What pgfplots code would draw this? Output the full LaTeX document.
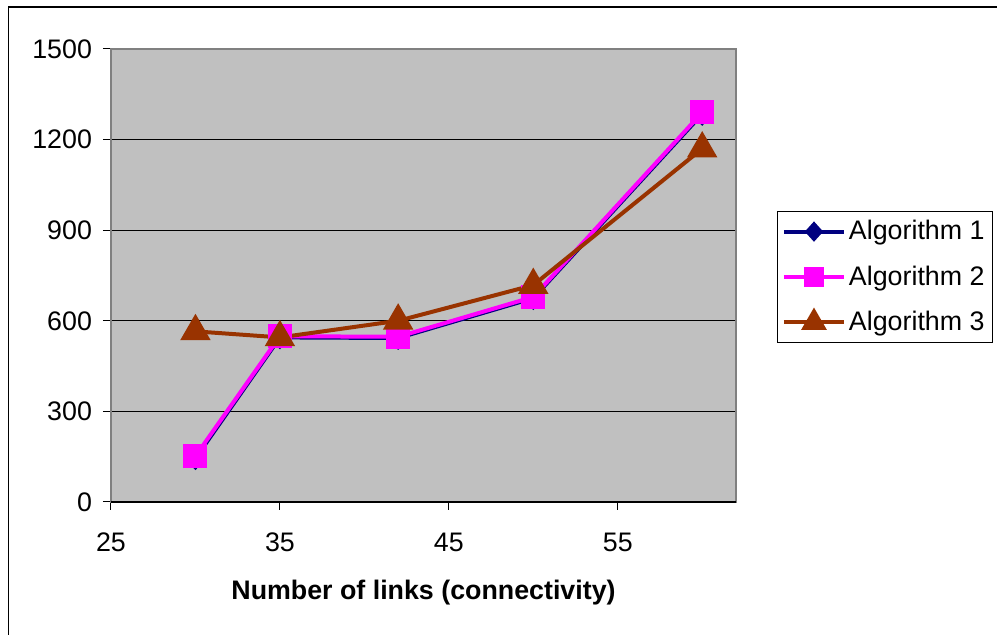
\documentclass[border=0pt]{standalone}
\usepackage{pgfplots}
\pgfplotsset{compat=1.18}
\usepackage{fontspec}
\setmainfont{Liberation Sans}
\definecolor{algone}{RGB}{0,0,128}
\definecolor{algtwo}{RGB}{255,0,255}
\definecolor{algthree}{RGB}{153,51,0}
\definecolor{plotbg}{RGB}{192,192,192}
\definecolor{axgray}{RGB}{128,128,128}
\begin{document}
\begin{tikzpicture}[font=\fontsize{13.4}{16}\selectfont]
\useasboundingbox (0,0) rectangle (498.5pt,317.5pt);
\draw[black, line width=0.6pt] (4.2pt,-5pt) -- (4.2pt,314pt) -- (505pt,314pt);
\begin{axis}[
  at={(55.5pt,66.5pt)}, anchor=south west,
  scale only axis, width=312.5pt, height=226.5pt,
  xmin=25, xmax=62, ymin=0, ymax=1500,
  xtick={25,35,45,55}, ytick={0,300,600,900,1200,1500},
  tick pos=left,
  tick align=outside, major tick length=4pt,
  ymajorgrids, grid style={black, line width=0.5pt},
  axis line style={axgray, line width=0.6pt},
  tick style={black, line width=0.5pt},
  axis background/.style={fill=plotbg},
  /pgf/number format/assume math mode=true,
  /pgf/number format/1000 sep={},
  ticklabel style={font=\fontsize{13.4}{16}\selectfont},
  xticklabel style={yshift=-8pt},
  yticklabel style={xshift=-2pt},
  xlabel={\bfseries Number of links (connectivity)},
  xlabel style={at={(axis description cs:0.5,-0.2)}, anchor=center},
  legend style={at={(1.0656,0.6424)}, anchor=north west, draw=black, fill=white,
    inner xsep=2.3pt, inner ysep=3pt, row sep=8.5pt, nodes={inner sep=1.5pt}},
  legend cell align=left,
  legend image code/.code={\draw[mark repeat=2,mark phase=2,every mark/.append style={scale=0.8}] plot coordinates {(0pt,0pt) (15pt,0pt) (30pt,0pt)};},
  clip=false,
]
\addplot[algone, line width=2pt, mark=diamond*, mark size=4.5pt, mark options={solid, xscale=1.2}]
  coordinates {(30,145) (35,545) (42,543) (50,675) (60,1285)};
\addlegendentry{Algorithm 1}
\addplot[algtwo, line width=2pt, mark=square*, mark size=5pt, mark options={solid}]
  coordinates {(30,152) (35,549) (42,547) (50,679) (60,1290)};
\addlegendentry{Algorithm 2}
\addplot[algthree, line width=2pt, mark=triangle*, mark size=6.8pt, mark options={solid}]
  coordinates {(30,565) (35,545) (42,600) (50,718) (60,1170)};
\addlegendentry{Algorithm 3}
\draw[black, line width=0.6pt] (axis cs:25,0) -- (axis cs:62,0);
\end{axis}
\end{tikzpicture}
\end{document}
